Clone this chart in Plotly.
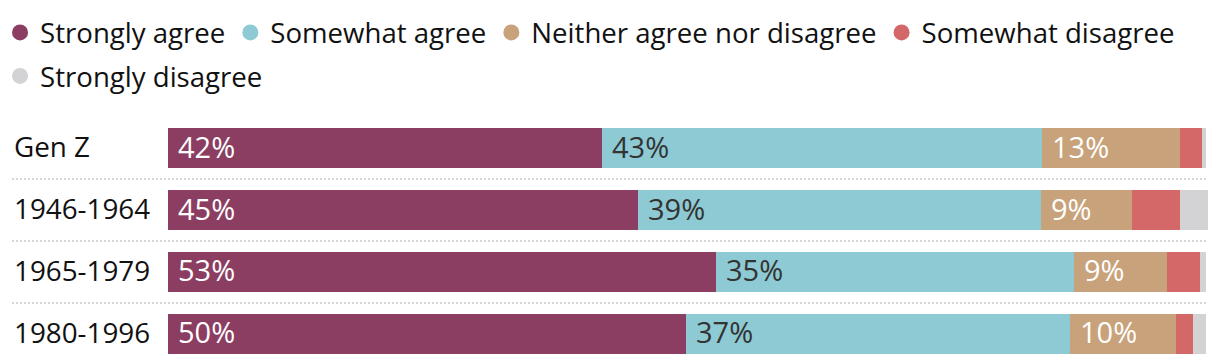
import plotly.graph_objects as go

categories = ["Gen Z", "1946-1964", "1965-1979", "1980-1996"]
series_names = ["Strongly agree", "Somewhat agree", "Neither agree nor disagree",
                "Somewhat disagree", "Strongly disagree"]
strongly_agree = [41.7, 45.2, 52.7, 49.8]
somewhat_agree = [42.3, 38.7, 34.4, 36.9]
neither = [13.3, 8.8, 9.0, 10.2]
somewhat_disagree = [2.1, 4.6, 3.1, 1.7]
strongly_disagree = [0.4, 2.7, 0.6, 1.2]
labels_strongly_agree = ["42%", "45%", "53%", "50%"]
labels_somewhat_agree = ["43%", "39%", "35%", "37%"]
labels_neither = ["13%", "9%", "9%", "10%"]

colors = ["#8B3E61", "#8DCAD4", "#C8A27A", "#D46768", "#D3D3D5"]
label_colors = ["#FFFFFF", "#333333", "#FFFFFF"]
legend_rows = ["legend", "legend", "legend", "legend", "legend2"]
FONT = "Open Sans"

series = [strongly_agree, somewhat_agree, neither, somewhat_disagree, strongly_disagree]
series_labels = [labels_strongly_agree, labels_somewhat_agree, labels_neither, None, None]

fig = go.Figure()
for name, vals, col in zip(series_names, series, colors):
    fig.add_trace(go.Bar(
        x=vals, y=categories, orientation="h", name=name,
        marker=dict(color=col, line=dict(width=0)),
        showlegend=False, hoverinfo="skip",
    ))
# legend entries with circle markers
for name, col, lg in zip(series_names, colors, legend_rows):
    fig.add_trace(go.Scatter(
        x=[None], y=[None], mode="markers", name=name,
        marker=dict(color=col, size=18, symbol="circle"),
        showlegend=True, legend=lg,
    ))

annotations = []
# value labels inside bars
for si, labs in enumerate(series_labels):
    if labs is None:
        continue
    for ci, cat in enumerate(categories):
        base = sum(series[k][ci] for k in range(si))
        annotations.append(dict(
            x=base, y=cat, xref="x", yref="y", text=labs[ci],
            xanchor="left", yanchor="middle", xshift=8, yshift=2, showarrow=False,
            font=dict(family=FONT, size=29, color=label_colors[si]),
        ))
# row labels
for cat in categories:
    annotations.append(dict(
        x=-0.15, y=cat, xref="paper", yref="y", text=cat,
        xanchor="left", yanchor="middle", yshift=2, showarrow=False,
        font=dict(family=FONT, size=27.8, color="#111111"),
    ))

shapes = []
for i in range(len(categories) - 1):
    shapes.append(dict(
        type="line", xref="paper", yref="y", x0=-0.15, x1=1, y0=i + 0.5, y1=i + 0.5,
        line=dict(color="#D6D6D6", width=2, dash="2px,2px"),
    ))

legend_style = dict(orientation="h", xanchor="left", yanchor="middle",
                    font=dict(family=FONT, size=27.6, color="#111111"),
                    bgcolor="rgba(0,0,0,0)", itemclick=False, itemdoubleclick=False,
                    traceorder="normal", borderwidth=0)

fig.update_layout(
    width=1212, height=356,
    margin=dict(l=160, r=12, t=109, b=0, autoexpand=False),
    barmode="stack", bargap=0.355,
    paper_bgcolor="white", plot_bgcolor="white",
    xaxis=dict(range=[0, 100], visible=False, fixedrange=True),
    yaxis=dict(type="category", categoryorder="array", categoryarray=categories,
               range=[3.484, -0.5], visible=False, fixedrange=True),
    legend=dict(x=-0.1615, y=1.342, **legend_style),
    legend2=dict(x=-0.1615, y=1.166, **legend_style),
    annotations=annotations, shapes=shapes,
    font=dict(family=FONT),
)

fig.write_html("out.html")
